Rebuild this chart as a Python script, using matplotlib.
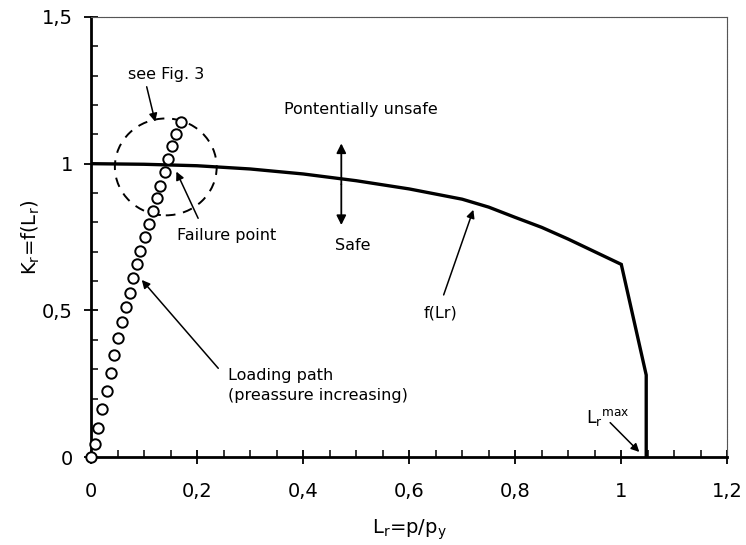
import matplotlib
matplotlib.use("Agg")
import matplotlib.pyplot as plt
from matplotlib.patches import Ellipse
from matplotlib.ticker import MultipleLocator, FuncFormatter

plt.rcParams['font.family'] = ['DejaVu Sans']
plt.rcParams['mathtext.default'] = 'regular'

# failure assessment curve f(Lr)
lr_curve = [0, 0.1, 0.2, 0.3, 0.4, 0.5, 0.6, 0.7, 0.75, 0.8, 0.85, 0.9, 0.95, 1.0, 1.047, 1.047]
kr_curve = [1.0, 0.998, 0.993, 0.982, 0.965, 0.942, 0.914, 0.879, 0.852, 0.817, 0.783, 0.743, 0.70, 0.657, 0.28, 0.0]

# loading path (pressure increasing)
lr_load = [0, 0.0066, 0.014, 0.021, 0.030, 0.037, 0.043, 0.051, 0.058, 0.066, 0.073, 0.080,
           0.087, 0.093, 0.102, 0.109, 0.117, 0.124, 0.131, 0.139, 0.146, 0.153, 0.161, 0.170]
kr_load = [0, 0.045, 0.101, 0.164, 0.226, 0.288, 0.349, 0.406, 0.460, 0.511, 0.560, 0.610,
           0.659, 0.702, 0.750, 0.794, 0.838, 0.882, 0.925, 0.970, 1.015, 1.061, 1.102, 1.143]

x_ticks = [0, 0.2, 0.4, 0.6, 0.8, 1.0, 1.2]
y_ticks = [0, 0.5, 1.0, 1.5]


def comma(v, pos):
    s = ('%.1f' % v).rstrip('0').rstrip('.')
    return s.replace('.', ',')


fig = plt.figure(figsize=(7.46, 5.45), dpi=100)
ax = fig.add_axes([0.122, 0.161, 0.853, 0.808])

ax.plot(lr_curve, kr_curve, color='black', lw=2.4, solid_joinstyle='miter')
ax.plot(lr_load, kr_load, ls='none', marker='o', ms=7.5, mfc='white', mec='black', mew=1.4,
        clip_on=False, zorder=5)

ax.add_patch(Ellipse((0.141, 0.989), 0.192, 0.330, fill=False, ec='black', lw=1.4,
                     ls=(0, (5, 4))))

ax.set_xlim(0, 1.2)
ax.set_ylim(0, 1.5)
ax.set_xticks(x_ticks)
ax.set_yticks(y_ticks)
ax.xaxis.set_minor_locator(MultipleLocator(0.05))
ax.yaxis.set_minor_locator(MultipleLocator(0.1))
ax.xaxis.set_major_formatter(FuncFormatter(comma))
ax.yaxis.set_major_formatter(FuncFormatter(comma))
ax.tick_params(which='major', direction='inout', length=10, width=1.3, labelsize=14, pad=8)
ax.tick_params(axis='x', which='major', pad=13)
ax.tick_params(which='minor', direction='in', length=5, width=1.1)

for side in ['left', 'bottom']:
    ax.spines[side].set_linewidth(2)
for side in ['top', 'right']:
    ax.spines[side].set_linewidth(0.8)
    ax.spines[side].set_color('#555555')
    ax.spines[side].set_linestyle((0, (1, 0.5)))

ax.set_xlabel('L$_r$=p/p$_y$', fontsize=14, labelpad=12)
ax.set_ylabel('K$_r$=f(L$_r$)', fontsize=14, labelpad=0)

arr = dict(arrowstyle='-|>', color='black', lw=1.1, mutation_scale=12, shrinkA=0, shrinkB=0)
fs = 11.5

ax.text(0.508, 1.183, 'Pontentially unsafe', fontsize=fs, ha='center', va='center')
ax.annotate('', xy=(0.472, 1.069), xytext=(0.472, 0.93),
            arrowprops=dict(arrowstyle='-|>', color='black', lw=1.3, mutation_scale=14,
                            shrinkA=0, shrinkB=0))
ax.annotate('', xy=(0.472, 0.791), xytext=(0.472, 0.93),
            arrowprops=dict(arrowstyle='-|>', color='black', lw=1.3, mutation_scale=14,
                            shrinkA=0, shrinkB=0))
ax.text(0.493, 0.722, 'Safe', fontsize=fs, ha='center', va='center')

ax.text(0.142, 1.303, 'see Fig. 3', fontsize=fs, ha='center', va='center')
ax.annotate('', xy=(0.121, 1.143), xytext=(0.105, 1.262), arrowprops=arr)

ax.text(0.162, 0.755, 'Failure point', fontsize=fs, ha='left', va='center')
ax.annotate('', xy=(0.161, 0.973), xytext=(0.202, 0.814), arrowprops=arr)

ax.text(0.258, 0.303, 'Loading path\n(preassure increasing)', fontsize=fs, ha='left',
        va='top', linespacing=1.4)
ax.annotate('', xy=(0.0957, 0.604), xytext=(0.24, 0.303), arrowprops=arr)

ax.text(0.628, 0.49, 'f(Lr)', fontsize=fs, ha='left', va='center')
ax.annotate('', xy=(0.721, 0.843), xytext=(0.665, 0.553), arrowprops=arr)

ax.text(0.975, 0.135, 'L$_r$$^{max}$', fontsize=fs + 1, ha='center', va='center')
ax.annotate('', xy=(1.034, 0.018), xytext=(0.979, 0.118), arrowprops=arr)

fig.savefig('out.png', dpi=100)
